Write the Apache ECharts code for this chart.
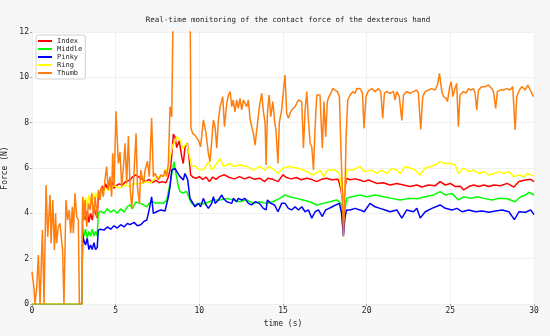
<!DOCTYPE html>
<html>
<head>
<meta charset="utf-8">
<script src="https://cdn.jsdelivr.net/npm/echarts@6/dist/echarts.min.js"></script>
<style>html,body{margin:0;padding:0;background:#f7f7f7;}#c{width:550px;height:336px;}</style>
</head>
<body>
<div id="c"></div>
<script>
const seriesNames = ['Index', 'Middle', 'Pinky', 'Ring', 'Thumb'];
const xTicks = [0, 5, 10, 15, 20, 25, 30];
const yTicks = [0, 2, 4, 6, 8, 10, 12];

const index = [[0,0],[2.97,0],[3.03,4.3],[3.1,4.0],[3.2,3.7],[3.3,4.1],[3.4,3.6],[3.5,4.0],[3.6,3.7],[3.7,4.2],[3.8,4.0],[3.9,3.8],[3.97,4.9],[4.1,5.0],[4.2,5.2],[4.3,5.0],[4.4,5.3],[4.5,5.1],[4.6,5.3],[4.7,5.2],[4.8,5.4],[4.9,5.1],[5.0,5.2],[5.2,5.3],[5.4,5.25],[5.6,5.4],[5.86,5.47],[6.0,5.6],[6.2,5.7],[6.4,5.6],[6.6,5.5],[6.8,5.4],[7.0,5.5],[7.2,5.35],[7.4,5.45],[7.6,5.35],[7.8,5.4],[8.0,5.35],[8.15,5.6],[8.3,6.1],[8.45,7.5],[8.55,7.35],[8.65,6.9],[8.8,7.2],[8.95,6.5],[9.04,6.2],[9.14,6.9],[9.28,7.1],[9.38,6.5],[9.48,5.7],[9.6,5.6],[9.8,5.55],[10.0,5.62],[10.2,5.5],[10.4,5.6],[10.6,5.4],[10.8,5.6],[11.0,5.5],[11.2,5.62],[11.5,5.7],[11.8,5.58],[12.1,5.52],[12.4,5.62],[12.7,5.52],[13.0,5.6],[13.3,5.5],[13.6,5.55],[13.9,5.4],[14.1,5.55],[14.4,5.5],[14.7,5.4],[15.0,5.7],[15.2,5.58],[15.5,5.52],[15.8,5.58],[16.1,5.48],[16.4,5.55],[16.7,5.5],[17.0,5.4],[17.3,5.5],[17.6,5.55],[17.9,5.48],[18.3,5.5],[18.47,5.0],[18.61,4.3],[18.7,5.1],[18.8,5.55],[19.0,5.48],[19.3,5.52],[19.6,5.47],[19.85,5.4],[20.1,5.47],[20.6,5.32],[21.0,5.35],[21.4,5.25],[21.8,5.32],[22.2,5.25],[22.6,5.18],[23.0,5.25],[23.3,5.16],[23.7,5.25],[24.1,5.22],[24.39,5.4],[24.7,5.25],[25.0,5.32],[25.3,5.18],[25.6,5.2],[25.8,5.03],[26.1,5.18],[26.4,5.25],[26.7,5.18],[27.0,5.25],[27.3,5.18],[27.6,5.25],[28.0,5.22],[28.4,5.32],[28.8,5.16],[29.1,5.4],[29.5,5.47],[29.8,5.5],[30,5.4]];

const middle = [[0,0],[2.97,0],[3.03,3.4],[3.1,3.0],[3.2,3.3],[3.3,2.9],[3.4,3.2],[3.5,3.0],[3.6,3.3],[3.7,3.0],[3.8,3.2],[3.9,3.0],[3.96,4.0],[4.1,4.1],[4.3,4.0],[4.5,4.2],[4.7,4.05],[4.9,4.15],[5.1,4.0],[5.3,4.2],[5.5,4.05],[5.7,4.3],[5.86,4.37],[6.0,4.2],[6.2,4.5],[6.5,4.44],[6.7,4.35],[6.86,4.29],[7.0,4.45],[7.2,4.51],[7.4,4.45],[7.6,4.47],[7.85,4.44],[8.05,4.59],[8.25,5.32],[8.49,6.28],[8.6,5.76],[8.75,5.18],[8.85,4.96],[9.0,4.9],[9.24,4.96],[9.44,4.59],[9.54,4.44],[9.7,4.37],[10.0,4.44],[10.3,4.42],[10.84,4.59],[11.24,4.59],[11.64,4.66],[12.0,4.59],[12.4,4.51],[12.83,4.59],[13.23,4.44],[13.6,4.51],[14.0,4.44],[14.4,4.51],[14.8,4.66],[15.12,4.81],[15.4,4.73],[15.8,4.66],[16.2,4.59],[16.6,4.51],[17.02,4.37],[17.4,4.44],[17.8,4.51],[18.2,4.59],[18.47,4.44],[18.61,3.56],[18.7,4.1],[18.8,4.66],[19.1,4.73],[19.6,4.81],[20.0,4.73],[20.5,4.81],[21.0,4.73],[21.5,4.66],[22.0,4.59],[22.5,4.66],[23.0,4.64],[23.5,4.73],[24.0,4.81],[24.39,4.96],[24.7,4.81],[25.1,4.88],[25.48,4.59],[25.8,4.73],[26.2,4.66],[26.6,4.73],[27.0,4.66],[27.5,4.59],[27.9,4.66],[28.4,4.64],[28.87,4.51],[29.2,4.73],[29.5,4.81],[29.7,4.93],[30,4.81]];

const pinky = [[0,0],[2.97,0],[3.03,3.1],[3.1,2.8],[3.2,2.6],[3.3,2.9],[3.4,2.4],[3.5,2.6],[3.6,2.4],[3.7,2.7],[3.8,2.4],[3.9,2.5],[3.96,3.26],[4.1,3.3],[4.3,3.26],[4.5,3.4],[4.7,3.3],[4.9,3.45],[5.1,3.35],[5.3,3.5],[5.5,3.4],[5.7,3.55],[5.86,3.5],[6.1,3.6],[6.3,3.45],[6.5,3.5],[6.7,3.65],[6.86,3.7],[7.0,4.15],[7.15,4.73],[7.25,4.0],[7.45,4.07],[7.7,4.15],[7.95,4.1],[8.15,4.73],[8.25,5.18],[8.35,5.91],[8.45,5.84],[8.55,5.98],[8.65,5.84],[8.85,5.62],[9.04,5.47],[9.14,5.76],[9.3,5.5],[9.44,4.66],[9.54,4.59],[9.74,4.29],[9.94,4.44],[10.08,4.29],[10.24,4.66],[10.4,4.37],[10.54,4.22],[10.74,4.44],[10.84,4.73],[10.94,4.44],[11.14,4.59],[11.34,4.81],[11.44,4.66],[11.64,4.51],[11.74,4.59],[11.94,4.44],[12.03,4.66],[12.23,4.51],[12.33,4.66],[12.53,4.59],[12.73,4.66],[12.93,4.44],[13.13,4.37],[13.33,4.51],[13.59,4.44],[13.83,4.22],[13.99,4.15],[14.07,4.59],[14.27,4.44],[14.49,4.37],[14.7,4.07],[14.92,4.44],[15.12,4.44],[15.32,4.22],[15.52,4.15],[15.72,4.29],[15.92,4.15],[16.12,4.29],[16.32,4.07],[16.52,4.15],[16.72,3.79],[16.92,4.07],[17.12,4.15],[17.35,3.86],[17.55,4.15],[17.75,4.22],[17.95,4.29],[18.15,4.37],[18.37,4.44],[18.5,4.0],[18.61,3.0],[18.7,3.8],[18.8,4.15],[19.0,4.15],[19.31,4.22],[19.6,4.15],[19.85,4.07],[20.2,4.44],[20.5,4.29],[20.8,4.22],[21.1,4.15],[21.4,4.07],[21.8,4.15],[22.1,3.79],[22.4,4.15],[22.8,4.07],[23.0,4.22],[23.2,3.79],[23.5,4.07],[23.9,4.22],[24.39,4.37],[24.7,4.22],[25.1,4.15],[25.4,4.22],[25.7,4.07],[26.1,4.15],[26.5,4.07],[26.9,4.1],[27.3,4.05],[27.7,4.1],[28.1,4.15],[28.5,4.07],[28.83,3.72],[29.1,4.07],[29.5,4.05],[29.8,4.15],[30,3.94]];

const ring = [[0,0],[2.97,0],[3.03,4.6],[3.1,4.4],[3.2,4.7],[3.3,4.3],[3.4,4.8],[3.5,4.5],[3.6,4.9],[3.7,4.6],[3.8,4.9],[3.9,4.7],[4.0,5.0],[4.2,4.9],[4.4,5.1],[4.6,5.0],[4.8,5.2],[5.0,5.2],[5.2,5.1],[5.4,5.2],[5.6,5.25],[5.86,5.18],[6.1,5.3],[6.5,5.32],[6.86,5.4],[7.1,5.35],[7.45,5.62],[7.7,5.6],[7.95,5.69],[8.15,6.13],[8.4,7.0],[8.5,7.1],[8.65,7.38],[8.85,7.23],[9.0,6.86],[9.14,7.0],[9.24,7.1],[9.38,6.65],[9.54,6.07],[9.74,6.1],[9.94,5.95],[10.24,5.91],[10.54,6.28],[10.74,5.91],[11.04,6.2],[11.24,6.42],[11.44,6.07],[11.84,6.2],[12.03,6.07],[12.43,6.13],[12.83,6.07],[13.23,5.91],[13.59,6.07],[13.93,5.91],[14.17,6.07],[14.49,5.91],[14.7,5.76],[15.02,6.0],[15.42,6.07],[15.82,6.0],[16.22,5.91],[16.42,5.84],[16.82,5.69],[17.21,5.91],[17.45,5.62],[17.65,5.91],[18.11,5.91],[18.37,5.76],[18.5,5.03],[18.61,4.15],[18.7,5.2],[18.8,5.91],[19.17,5.91],[19.6,6.07],[19.85,5.84],[20.3,5.91],[20.6,5.76],[20.9,5.91],[21.2,5.76],[21.5,5.98],[21.8,5.91],[22.0,5.76],[22.3,6.07],[22.6,6.0],[22.9,5.91],[23.19,5.69],[23.5,6.0],[23.8,6.07],[24.1,6.13],[24.39,6.28],[24.7,6.2],[25.0,6.2],[25.3,6.13],[25.48,5.76],[25.8,6.0],[26.1,5.84],[26.4,5.91],[26.7,5.76],[27.0,5.84],[27.3,5.69],[27.6,5.76],[27.9,5.84],[28.2,5.76],[28.5,5.84],[28.77,5.62],[29.1,5.69],[29.4,5.62],[29.6,5.76],[30,5.64]];

const thumb = [[0,1.43],[0.12,0.69],[0.18,0],[0.28,0.69],[0.38,2.16],[0.48,0],[0.62,3.26],[0.72,0],[0.84,5.25],[0.94,2.97],[1.08,4.81],[1.14,2.68],[1.24,4.59],[1.34,2.38],[1.41,4.0],[1.47,2.68],[1.57,3.41],[1.67,3.56],[1.77,3.6],[1.83,2.38],[1.91,0],[2.03,4.59],[2.13,3.7],[2.23,4.15],[2.31,3.12],[2.41,4.29],[2.47,3.12],[2.57,4.88],[2.67,3.85],[2.77,3.7],[2.83,0],[2.97,0],[3.03,4.73],[3.11,3.7],[3.17,4.59],[3.27,3.41],[3.37,4.44],[3.47,4.15],[3.57,4.88],[3.67,3.85],[3.77,4.73],[3.87,3.85],[3.97,5.03],[4.06,4.59],[4.16,5.18],[4.26,4.73],[4.36,5.47],[4.46,6.06],[4.56,5.03],[4.66,5.62],[4.76,4.73],[4.82,6.65],[4.9,5.18],[5.02,8.5],[5.16,6.2],[5.26,6.7],[5.36,5.18],[5.46,6.0],[5.56,7.09],[5.66,5.32],[5.76,7.41],[5.86,5.18],[5.96,4.2],[6.06,5.32],[6.22,7.53],[6.3,5.18],[6.42,4.44],[6.5,5.91],[6.66,5.32],[6.76,5.91],[6.9,6.3],[7.01,5.62],[7.15,8.2],[7.25,5.62],[7.35,5.76],[7.55,5.47],[7.7,5.7],[7.85,5.62],[7.95,5.91],[8.05,5.62],[8.15,6.2],[8.25,8.71],[8.35,8.26],[8.45,14],[9.44,14],[9.5,7.75],[9.6,7.53],[9.74,7.45],[9.94,7.23],[10.08,6.94],[10.24,8.12],[10.4,7.53],[10.54,6.65],[10.64,6.28],[10.74,6.2],[10.84,8.12],[10.94,7.82],[11.04,6.87],[11.14,8.12],[11.24,8.71],[11.4,9.15],[11.5,7.82],[11.64,8.85],[11.74,9.22],[11.84,9.37],[11.94,8.71],[12.03,9.0],[12.13,8.48],[12.23,9.0],[12.33,8.63],[12.43,9.07],[12.53,8.56],[12.63,9.0],[12.73,9.07],[12.83,8.71],[12.93,9.0],[13.03,8.19],[13.13,7.82],[13.23,7.53],[13.33,7.01],[13.43,7.68],[13.59,8.71],[13.73,9.29],[13.83,8.48],[13.93,8.0],[13.99,6.13],[14.07,8.41],[14.17,9.22],[14.27,8.26],[14.39,8.93],[14.49,8.12],[14.58,7.68],[14.7,6.2],[14.78,8.0],[14.92,8.56],[15.02,9.37],[15.12,10.1],[15.22,8.41],[15.32,8.19],[15.42,8.41],[15.52,8.56],[15.72,8.71],[15.82,8.85],[15.92,9.0],[16.02,9.07],[16.12,8.93],[16.22,6.87],[16.32,8.56],[16.42,9.37],[16.52,8.12],[16.62,7.09],[16.72,6.94],[16.82,5.91],[16.92,7.82],[17.02,9.22],[17.12,9.15],[17.21,9.22],[17.35,6.87],[17.45,8.93],[17.55,7.38],[17.65,8.93],[17.75,9.15],[17.85,9.29],[17.97,9.51],[18.11,9.44],[18.25,9.37],[18.37,9.15],[18.47,6.65],[18.55,5.03],[18.61,2.97],[18.69,4.44],[18.77,7.38],[18.87,9.0],[19.01,9.22],[19.17,9.37],[19.31,9.29],[19.41,9.51],[19.61,9.5],[19.75,9.3],[19.84,7.75],[19.96,9.15],[20.1,9.4],[20.3,9.5],[20.5,9.37],[20.7,9.5],[20.84,9.37],[20.96,8.2],[21.06,9.3],[21.2,9.37],[21.4,9.3],[21.6,9.37],[21.7,9.0],[21.8,9.37],[21.95,9.15],[22.1,8.1],[22.2,9.22],[22.39,9.37],[22.59,9.3],[22.8,9.37],[22.99,9.44],[23.09,9.3],[23.23,7.7],[23.35,9.15],[23.49,9.37],[23.69,9.44],[23.89,9.5],[24.09,9.44],[24.23,9.66],[24.35,10.18],[24.49,9.37],[24.59,9.15],[24.75,9.07],[24.83,8.93],[24.95,9.55],[25.05,9.81],[25.15,9.15],[25.27,9.5],[25.38,9.73],[25.48,7.82],[25.58,9.22],[25.78,9.37],[25.94,9.3],[26.08,9.5],[26.24,9.44],[26.38,9.5],[26.48,9.3],[26.58,8.56],[26.68,9.44],[26.88,9.59],[27.08,9.59],[27.28,9.66],[27.48,9.5],[27.58,9.37],[27.71,8.63],[27.81,9.37],[27.97,9.44],[28.17,9.44],[28.37,9.5],[28.57,9.44],[28.73,9.59],[28.87,7.68],[28.97,9.15],[29.13,9.44],[29.27,9.59],[29.47,9.44],[29.63,9.66],[29.77,9.44],[29.87,9.37],[29.97,9.15]];

const seriesData = [index, middle, pinky, ring, thumb];
const colors = ['#ff0000', '#00ff00', '#0000ff', '#ffff00', '#ff7f0e'];

const FONT = 'DejaVu Sans Mono';
const chart = echarts.init(document.getElementById('c'), null, {renderer: 'canvas'});
chart.setOption({
  animation: false,
  backgroundColor: '#f7f7f7',
  title: {
    text: 'Real-time monitoring of the contact force of the dexterous hand',
    left: 283, top: 11, textAlign: 'center',
    textStyle: {fontFamily: FONT, fontSize: 7.5, fontWeight: 'normal', color: '#222'}
  },
  legend: {
    data: seriesNames,
    orient: 'vertical', left: 36, top: 35,
    icon: 'rect', itemWidth: 14, itemHeight: 2, itemGap: 0,
    padding: [2, 3, 2, 2],
    backgroundColor: '#ffffff', borderColor: '#d0d0d0', borderWidth: 1, borderRadius: 2,
    textStyle: {fontFamily: FONT, fontSize: 7, lineHeight: 8, color: '#222'}
  },
  grid: {left: 32, right: 16, top: 32, bottom: 32, show: true, backgroundColor: '#ffffff', borderWidth: 0,
    containLabel: false, outerBoundsMode: 'none'},
  xAxis: {
    type: 'value', min: 0, max: 30, interval: 5,
    name: 'time (s)', nameLocation: 'middle', nameGap: 15,
    nameTextStyle: {fontFamily: FONT, fontSize: 8, color: '#222'},
    axisLine: {show: false},
    axisTick: {show: true, length: 2, lineStyle: {color: '#aaa'}},
    axisLabel: {fontFamily: FONT, fontSize: 8, color: '#222', margin: 3,
      customValues: xTicks},
    splitLine: {show: true, lineStyle: {color: '#f0f0f0', width: 1}}
  },
  yAxis: {
    type: 'value', min: 0, max: 12, interval: 2,
    name: 'Force (N)', nameLocation: 'middle', nameGap: 17, nameRotate: 90,
    nameTextStyle: {fontFamily: FONT, fontSize: 8, color: '#222'},
    axisLine: {show: false},
    axisTick: {show: true, length: 2, lineStyle: {color: '#aaa'}},
    axisLabel: {fontFamily: FONT, fontSize: 8, color: '#222', margin: 3,
      customValues: yTicks},
    splitLine: {show: true, lineStyle: {color: '#f0f0f0', width: 1}}
  },
  series: seriesNames.map((n, i) => ({
    name: n, type: 'line', data: seriesData[i], showSymbol: false, symbol: 'none',
    clip: true, lineStyle: {width: 1.5, color: colors[i]}, itemStyle: {color: colors[i]}
  }))
});
</script>
</body>
</html>
